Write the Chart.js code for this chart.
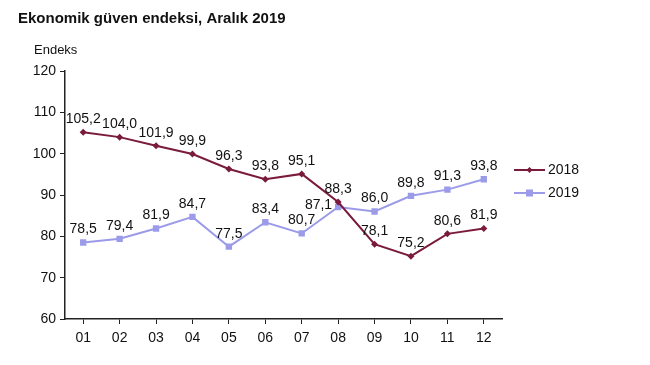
<!DOCTYPE html>
<html>
<head>
<meta charset="utf-8">
<script src="https://cdn.jsdelivr.net/npm/chart.js@4"></script>
<style>
  html, body { margin: 0; padding: 0; background: #fff; }
  .vis-container { width: 650px; height: 365px; position: relative; }
</style>
</head>
<body>
<div class="vis-container"><canvas id="vis"></canvas></div>
<script>

// months and index values
const months = ['01', '02', '03', '04', '05', '06', '07', '08', '09', '10', '11', '12'];
const values_2018 = [105.2, 104.0, 101.9, 99.9, 96.3, 93.8, 95.1, 88.3, 78.1, 75.2, 80.6, 81.9];
const values_2019 = [78.5, 79.4, 81.9, 84.7, 77.5, 83.4, 80.7, 87.1, 86.0, 89.8, 91.3, 93.8];
const series_names = ['2018', '2019'];
const y_ticks = [60, 70, 80, 90, 100, 110, 120];

const title_text = 'Ekonomik güven endeksi, Aralık 2019';
const y_title = 'Endeks';

const col_2018 = '#7a1a3c';
const col_2019 = '#9b9bea';
const font_family = '"Liberation Sans", Arial, sans-serif';

const fmt = v => v.toFixed(1).replace('.', ',');

// draws the value above every point (one label sits to the left)
const valueLabels = {
    id: 'valueLabels',
    afterDatasetsDraw(chart) {
        const ctx = chart.ctx;
        ctx.save();
        ctx.font = '14px ' + font_family;
        ctx.fillStyle = '#111';
        chart.data.datasets.forEach((ds, di) => {
            const meta = chart.getDatasetMeta(di);
            meta.data.forEach((pt, i) => {
                const txt = fmt(ds.data[i]);
                if (di == 1 && i == 7) {
                    ctx.textAlign = 'right';
                    ctx.textBaseline = 'middle';
                    ctx.fillText(txt, pt.x - 6, pt.y - 2);
                } else {
                    ctx.textAlign = 'center';
                    ctx.textBaseline = 'bottom';
                    ctx.fillText(txt, pt.x, pt.y - 6);
                }
            });
        });
        ctx.restore();
    }
};

// title, axis name and legend at the right
const decorations = {
    id: 'decorations',
    afterDraw(chart) {
        const ctx = chart.ctx;
        ctx.save();
        ctx.fillStyle = '#111';
        ctx.textBaseline = 'middle';
        ctx.textAlign = 'left';
        ctx.font = 'bold 15px ' + font_family;
        ctx.fillText(title_text, 18, 19);
        ctx.font = '13px ' + font_family;
        ctx.fillText(y_title, 34, 50);

        const items = [
            { name: series_names[0], col: col_2018, y: 170, shape: 'diamond' },
            { name: series_names[1], col: col_2019, y: 193, shape: 'square' }
        ];
        items.forEach(it => {
            ctx.strokeStyle = it.col;
            ctx.lineWidth = 2;
            ctx.beginPath();
            ctx.moveTo(514, it.y);
            ctx.lineTo(545, it.y);
            ctx.stroke();
            ctx.fillStyle = it.col;
            if (it.shape == 'square') {
                ctx.fillRect(526, it.y - 3.5, 7, 7);
            } else {
                ctx.beginPath();
                ctx.moveTo(529.5, it.y - 3);
                ctx.lineTo(532.5, it.y);
                ctx.lineTo(529.5, it.y + 3);
                ctx.lineTo(526.5, it.y);
                ctx.closePath();
                ctx.fill();
            }
            ctx.fillStyle = '#111';
            ctx.font = '14px ' + font_family;
            ctx.fillText(it.name, 548, it.y);
        });
        ctx.restore();
    }
};

new Chart(document.getElementById('vis'), {
    type: 'line',
    data: {
        labels: months,
        datasets: [
            {
                label: series_names[0],
                data: values_2018,
                borderColor: col_2018,
                backgroundColor: col_2018,
                borderWidth: 2,
                pointStyle: 'rectRot',
                pointRadius: 3.5,
                pointBorderWidth: 0,
                tension: 0
            },
            {
                label: series_names[1],
                data: values_2019,
                borderColor: col_2019,
                backgroundColor: col_2019,
                borderWidth: 2,
                pointStyle: 'rect',
                pointRadius: 4.5,
                pointBorderWidth: 0,
                tension: 0
            }
        ]
    },
    options: {
        responsive: true,
        maintainAspectRatio: false,
        animation: false,
        layout: { padding: { top: 71, right: 148, left: 0, bottom: 0 } },
        plugins: {
            legend: { display: false },
            title: { display: false },
            tooltip: { enabled: false }
        },
        scales: {
            x: {
                offset: true,
                afterFit: axis => { axis.height = 46; },
                grid: {
                    offset: false,
                    drawOnChartArea: false,
                    drawTicks: true,
                    tickLength: 5,
                    color: '#222'
                },
                border: { color: '#222', width: 1.5 },
                ticks: {
                    color: '#111',
                    padding: 6,
                    font: { family: font_family, size: 14 }
                }
            },
            y: {
                min: 60,
                max: 120,
                afterFit: axis => { axis.width = 65; },
                afterBuildTicks: axis => { axis.ticks = y_ticks.map(v => ({ value: v })); },
                grid: {
                    drawOnChartArea: false,
                    drawTicks: true,
                    tickLength: 5,
                    color: '#222'
                },
                border: { color: '#222', width: 1.5 },
                ticks: {
                    color: '#111',
                    padding: 4,
                    font: { family: font_family, size: 14 }
                }
            }
        }
    },
    plugins: [valueLabels, decorations]
});
</script>
</body>
</html>
